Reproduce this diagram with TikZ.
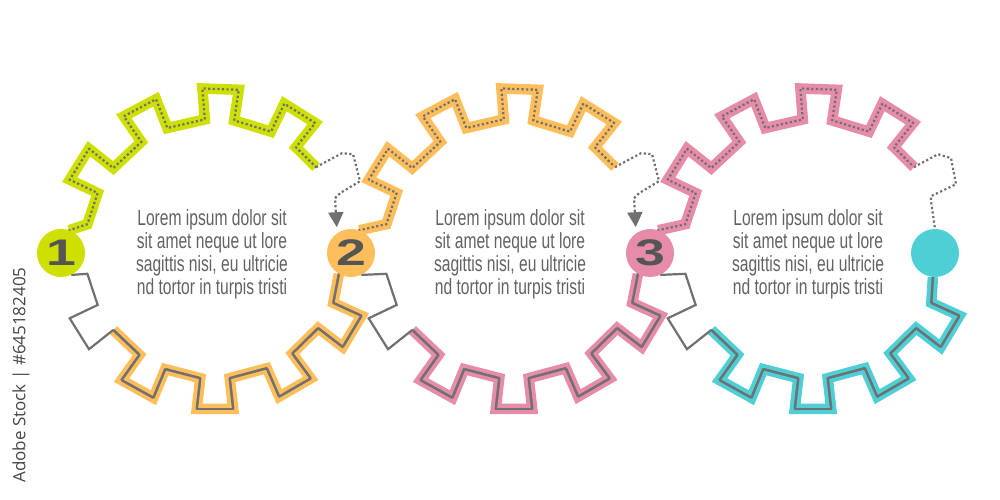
\documentclass[tikz,border=0pt]{standalone}
\usepackage{fontspec}
\usepackage{graphicx}
\setmainfont{Liberation Sans}
\newfontfamily\bodyfont{Liberation Sans}[FakeStretch=0.71]
\newfontfamily\wmfont{Open Sans}
\usetikzlibrary{arrows.meta,decorations.markings}
\pgfdeclarelayer{back}
\pgfsetlayers{back,main}
\definecolor{gLime}{RGB}{205,224,0}
\definecolor{gOrange}{RGB}{255,190,92}
\definecolor{gPink}{RGB}{230,140,168}
\definecolor{gCyan}{RGB}{77,207,213}
\definecolor{gGray}{RGB}{112,112,114}
\definecolor{gText}{RGB}{98,98,98}
\definecolor{gNum}{RGB}{85,85,85}
\definecolor{gWm}{RGB}{70,70,70}
% one tooth of a gear, as path material (centre angle #1)
\newcommand\gtooth[1]{-- ({#1+6.5}:\ri) -- ({#1+6.5}:\ro) -- ({#1-6.5}:\ro) -- ({#1-6.5}:\ri) }
\newcommand\upperteeth{\gtooth{148}\gtooth{118}\gtooth{88}\gtooth{58}}
\newcommand\lowerteeth{\gtooth{-31}\gtooth{-60}\gtooth{-90}\gtooth{-119}}
\begin{document}
\begin{tikzpicture}[x=1pt,y=1pt,
  gearband/.style={line width=10.5pt, line join=miter, line cap=butt, draw=#1},
  dotln/.style={draw=gGray, line width=2.2pt, line cap=butt, dash pattern=on 2.2pt off 2.4pt},
  solidln/.style={draw=gGray, line width=2.2pt, line join=miter},
  dotmarks/.style={decorate, decoration={markings,
     mark=between positions 0 and 1 step 4.6pt with {\fill[gGray] (-1.1pt,-1.1pt) rectangle (1.1pt,1.1pt);}}},
  solidmarks/.style={decorate, decoration={markings,
     mark=between positions 0 and 1 step 0.9pt with {\fill[gGray] (-0.7pt,-1.15pt) rectangle (0.7pt,1.15pt);}}},
  numnode/.style={circle, minimum size=48pt, inner sep=0pt, text=gNum, font=\bfseries\fontsize{37}{37}\selectfont},
  txt/.style={align=center, text=gText, font=\bodyfont\fontsize{22}{23}\selectfont},
  tipstyle/.style={-{Triangle[length=15pt,width=15pt]}}
]
\def\ri{130}
\def\ro{161}
\useasboundingbox (0,0) rectangle (1000,500);

% number nodes
\node[numnode, fill=gLime]   (n1) at (61,247)  {\scalebox{1.45}[1]{1}};
\node[numnode, fill=gOrange] (n2) at (351,247) {\scalebox{1.45}[1]{2}};
\node[numnode, fill=gPink]   (n3) at (650,247) {\scalebox{1.45}[1]{3}};
\node[numnode, fill=gCyan]   (n4) at (935,247) {};

% texts
\node[txt] (t1) at (212,246) {Lorem ipsum dolor sit\\sit amet neque ut lore\\sagittis nisi, eu ultricie\\nd tortor in turpis tristi};
\node[txt] (t2) at (510,246) {Lorem ipsum dolor sit\\sit amet neque ut lore\\sagittis nisi, eu ultricie\\nd tortor in turpis tristi};
\node[txt] (t3) at (808,246) {Lorem ipsum dolor sit\\sit amet neque ut lore\\sagittis nisi, eu ultricie\\nd tortor in turpis tristi};

\node[rotate=90, text=gWm, font=\wmfont\fontsize{17}{17}\selectfont] (wm) at (21,125) {Adobe Stock | \#645182405};

\begin{pgfonlayer}{back}
% ---------- gear 1
\begin{scope}[shift={(215,251)}]
\draw[gearband=gLime] (n1.70) -- (169:\ri) \upperteeth -- (39:\ri) coordinate (e1);
\path[dotmarks] (n1.70) -- (169:\ri) \upperteeth -- (39:\ri);
\draw[gearband=gOrange] (n2.240) \lowerteeth -- (-141.5:\ri);
\path[solidmarks] (n2.240) \lowerteeth -- (-141.5:\ri);
\draw[solidln] (-141.5:\ri) \gtooth{-148} -- (191:\ri) -- (n1.295);
\end{scope}
% ---------- gear 2
\begin{scope}[shift={(514,251)}]
\draw[gearband=gOrange] (n2.70) -- (169:\ri) \upperteeth -- (39:\ri) coordinate (e2);
\path[dotmarks] (n2.70) -- (169:\ri) \upperteeth -- (39:\ri);
\draw[gearband=gPink] (n3.240) \lowerteeth -- (-141.5:\ri);
\path[solidmarks] (n3.240) \lowerteeth -- (-141.5:\ri);
\draw[solidln] (-141.5:\ri) \gtooth{-148} -- (191:\ri) -- (n2.295);
\end{scope}
% ---------- gear 3
\begin{scope}[shift={(813,251)}]
\draw[gearband=gPink] (n3.70) -- (169:\ri) \upperteeth -- (39:\ri) coordinate (e3);
\path[dotmarks] (n3.70) -- (169:\ri) \upperteeth -- (39:\ri);
\draw[gearband=gCyan] (n4.265) \lowerteeth -- (-141.5:\ri);
\path[solidmarks] (n4.265) \lowerteeth -- (-141.5:\ri);
\draw[solidln] (-141.5:\ri) \gtooth{-148} -- (191:\ri) -- (n3.295);
\end{scope}
% ---------- dotted connectors
\draw[dotln, tipstyle, shorten >=6pt] (e1) -- ++(26,14) -- ++(11,-1) -- ++(7,-27) -- ++(-20,-12) -- ++(-5,-5) -- (n2.125);
\draw[dotln, tipstyle, shorten >=6pt] (e2) -- ++(26,14) -- ++(11,-1) -- ++(7,-27) -- ++(-20,-12) -- ++(-5,-5) -- (n3.125);
\draw[dotln] (e3) -- ++(24,13) -- ++(13,-4) -- ++(5,-26) -- ++(-25,-12) -- ++(0,-5) -- (n4.north);
\end{pgfonlayer}
\end{tikzpicture}
\end{document}
